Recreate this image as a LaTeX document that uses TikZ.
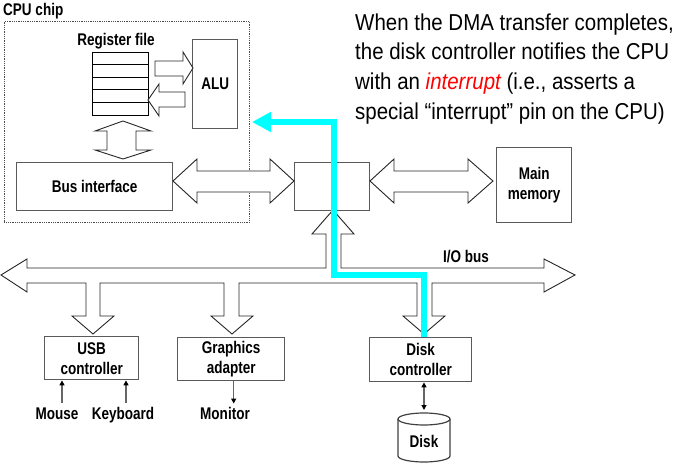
\documentclass[tikz,border=0pt]{standalone}
\usepackage{fontspec}
\setmainfont{Liberation Sans}
\newfontfamily\lblfont{Liberation Sans}[FakeStretch=0.8]
\newfontfamily\notefont{Liberation Sans}[FakeStretch=0.89]
\usetikzlibrary{arrows.meta,calc}
\definecolor{dmacyan}{HTML}{00FFFF}
\definecolor{boxline}{HTML}{5A5A5A}
\begin{document}
\begin{tikzpicture}[x=1pt,y=-1pt,
  lbl/.style={font=\lblfont\bfseries\fontsize{16.9}{20}\selectfont, align=center, inner sep=0pt},
  box/.style={lbl, draw=boxline, line width=1.4pt, anchor=north west},
  cpubox/.style={draw=black!70, line width=0.7pt, dash pattern=on 0.9pt off 0.9pt, anchor=north west, inner sep=0pt},
  blk/.style={draw=black!85, line width=0.9pt, fill=white, line join=miter},
  sig/.style={draw=black!60, line width=1.3pt, -{Triangle[length=5pt,width=5pt,color=black]}},
  sigboth/.style={draw=black!60, line width=1.3pt, {Triangle[length=5pt,width=5pt,color=black]}-{Triangle[length=5pt,width=5pt,color=black]}},
  dma/.style={draw=dmacyan, line width=6.5pt, -{Triangle[length=19pt,width=19pt]}},
]
\useasboundingbox (0,0) rectangle (678,465);

% ---------- CPU chip ----------
\node[cpubox, minimum width=245pt, minimum height=201pt] (cpu) at (4,21) {};
\node[lbl, anchor=west] (cpulbl) at (3,11) {CPU chip};
\node[lbl] (reglbl) at (116,41) {Register file};
\node[draw=black, line width=0.9pt, minimum width=56pt, minimum height=63pt,
      anchor=north west, inner sep=0pt] (regs) at (92,52) {};
\foreach \i in {1,...,4}
  \draw[line width=0.9pt] ($(regs.north west)+(0,12.6*\i)$) -- ($(regs.north east)+(0,12.6*\i)$);
\node[box, minimum width=45pt, minimum height=89pt] (alu) at (192,39) {ALU};
\node[box, minimum width=156pt, minimum height=48pt] (busif) at (16,162) {Bus interface};

% register file -> ALU, ALU -> register file
\draw[blk] (155,61) -- (183,61) -- (183,52) -- (193,68) -- (183,84) -- (183,76) -- (155,76) -- cycle;
\draw[blk] (185,92) -- (159,92) -- (159,84) -- (148,100) -- (159,116) -- (159,107) -- (185,107) -- cycle;
% register file <-> bus interface
\draw[blk] (123,121) -- (151,131) -- (136,131) -- (136,150) -- (151,150) -- (123,159)
  -- (95,150) -- (107,150) -- (107,131) -- (95,131) -- cycle;

% ---------- system bus, bridge, memory ----------
\node[box, minimum width=75pt, minimum height=48pt] (bridge) at (294,162) {};
\node[box, minimum width=75pt, minimum height=75pt] (mem) at (496,147) {Main\\memory};
\draw[blk] (173,181) -- (197,159) -- (197,171) -- (270,171) -- (270,159) -- (294,181)
  -- (270,203) -- (270,192) -- (197,192) -- (197,203) -- cycle;
\draw[blk] (370,181) -- (394,159) -- (394,171) -- (468,171) -- (468,159) -- (493,181)
  -- (468,203) -- (468,192) -- (394,192) -- (394,203) -- cycle;

% ---------- I/O bus with its branches ----------
\draw[blk] (1,275) -- (27,259) -- (27,268) -- (326,268) -- (326,234) -- (312,234) -- (333,210)
  -- (354,234) -- (341,234) -- (341,268) -- (544,268) -- (544,259) -- (575,275) -- (544,292)
  -- (544,283) -- (432,283) -- (432,316) -- (445,316) -- (424,334) -- (403,316) -- (417,316)
  -- (417,283) -- (239,283) -- (239,316) -- (253,316) -- (232,334) -- (211,316) -- (224,316)
  -- (224,283) -- (100,283) -- (100,316) -- (114,316) -- (93,334) -- (72,316) -- (86,316)
  -- (86,283) -- (27,283) -- (27,292) -- cycle;
\node[lbl] (iobus) at (466,257) {I/O bus};

% ---------- I/O devices ----------
\node[box, minimum width=94pt, minimum height=43pt] (usb) at (44,336) {USB\\controller};
\node[box, minimum width=107pt, minimum height=43pt] (gfx) at (177,337) {Graphics\\adapter};
\node[box, minimum width=102pt, minimum height=44pt] (dc) at (369,337) {Disk\\controller};

\node[lbl, anchor=base] (mouse) at (57,419) {Mouse};
\node[lbl, anchor=base] (kbd) at (123,419) {Keyboard};
\node[lbl, anchor=base] (monitor) at (225,419) {Monitor};

% disk drum
\draw[draw=black!75, line width=1.2pt, fill=white]
  (398,419) -- (398,456) arc[start angle=180, end angle=0, x radius=26, y radius=6] -- (450,419);
\draw[draw=black!75, line width=1.2pt] (424,419) ellipse[x radius=26, y radius=6];
\coordinate (disktop) at (424,413);
\node[lbl] (disk) at (424,441) {Disk};

\draw[sig] ($(mouse.north)+(5,-4)$) coordinate (m0) -- (m0 |- usb.south);
\draw[sig] ($(kbd.north)+(3,-4)$) coordinate (k0) -- (k0 |- usb.south);
\draw[sig] ($(gfx.south)+(2.5,0)$) coordinate (g0) -- ($(g0 |- monitor.north)+(0,-3)$);
\draw[sigboth] (disktop |- dc.south) -- ($(disktop)+(0,-3)$);

% ---------- interrupt path ----------
\coordinate (irq) at (252,122);
\draw[dma] (disktop |- dc.north) |- (334,275) |- (irq);

% ---------- note ----------
\node[anchor=north west, inner sep=0pt, align=left,
      font=\notefont\fontsize{23}{29.8}\selectfont] (note) at (355,13.3)
  {When the DMA transfer completes,\\
   the disk controller notifies the CPU\\
   with an \textcolor{red}{\itshape interrupt} (i.e., asserts a\\
   special “interrupt” pin on the CPU)};
\end{tikzpicture}
\end{document}
